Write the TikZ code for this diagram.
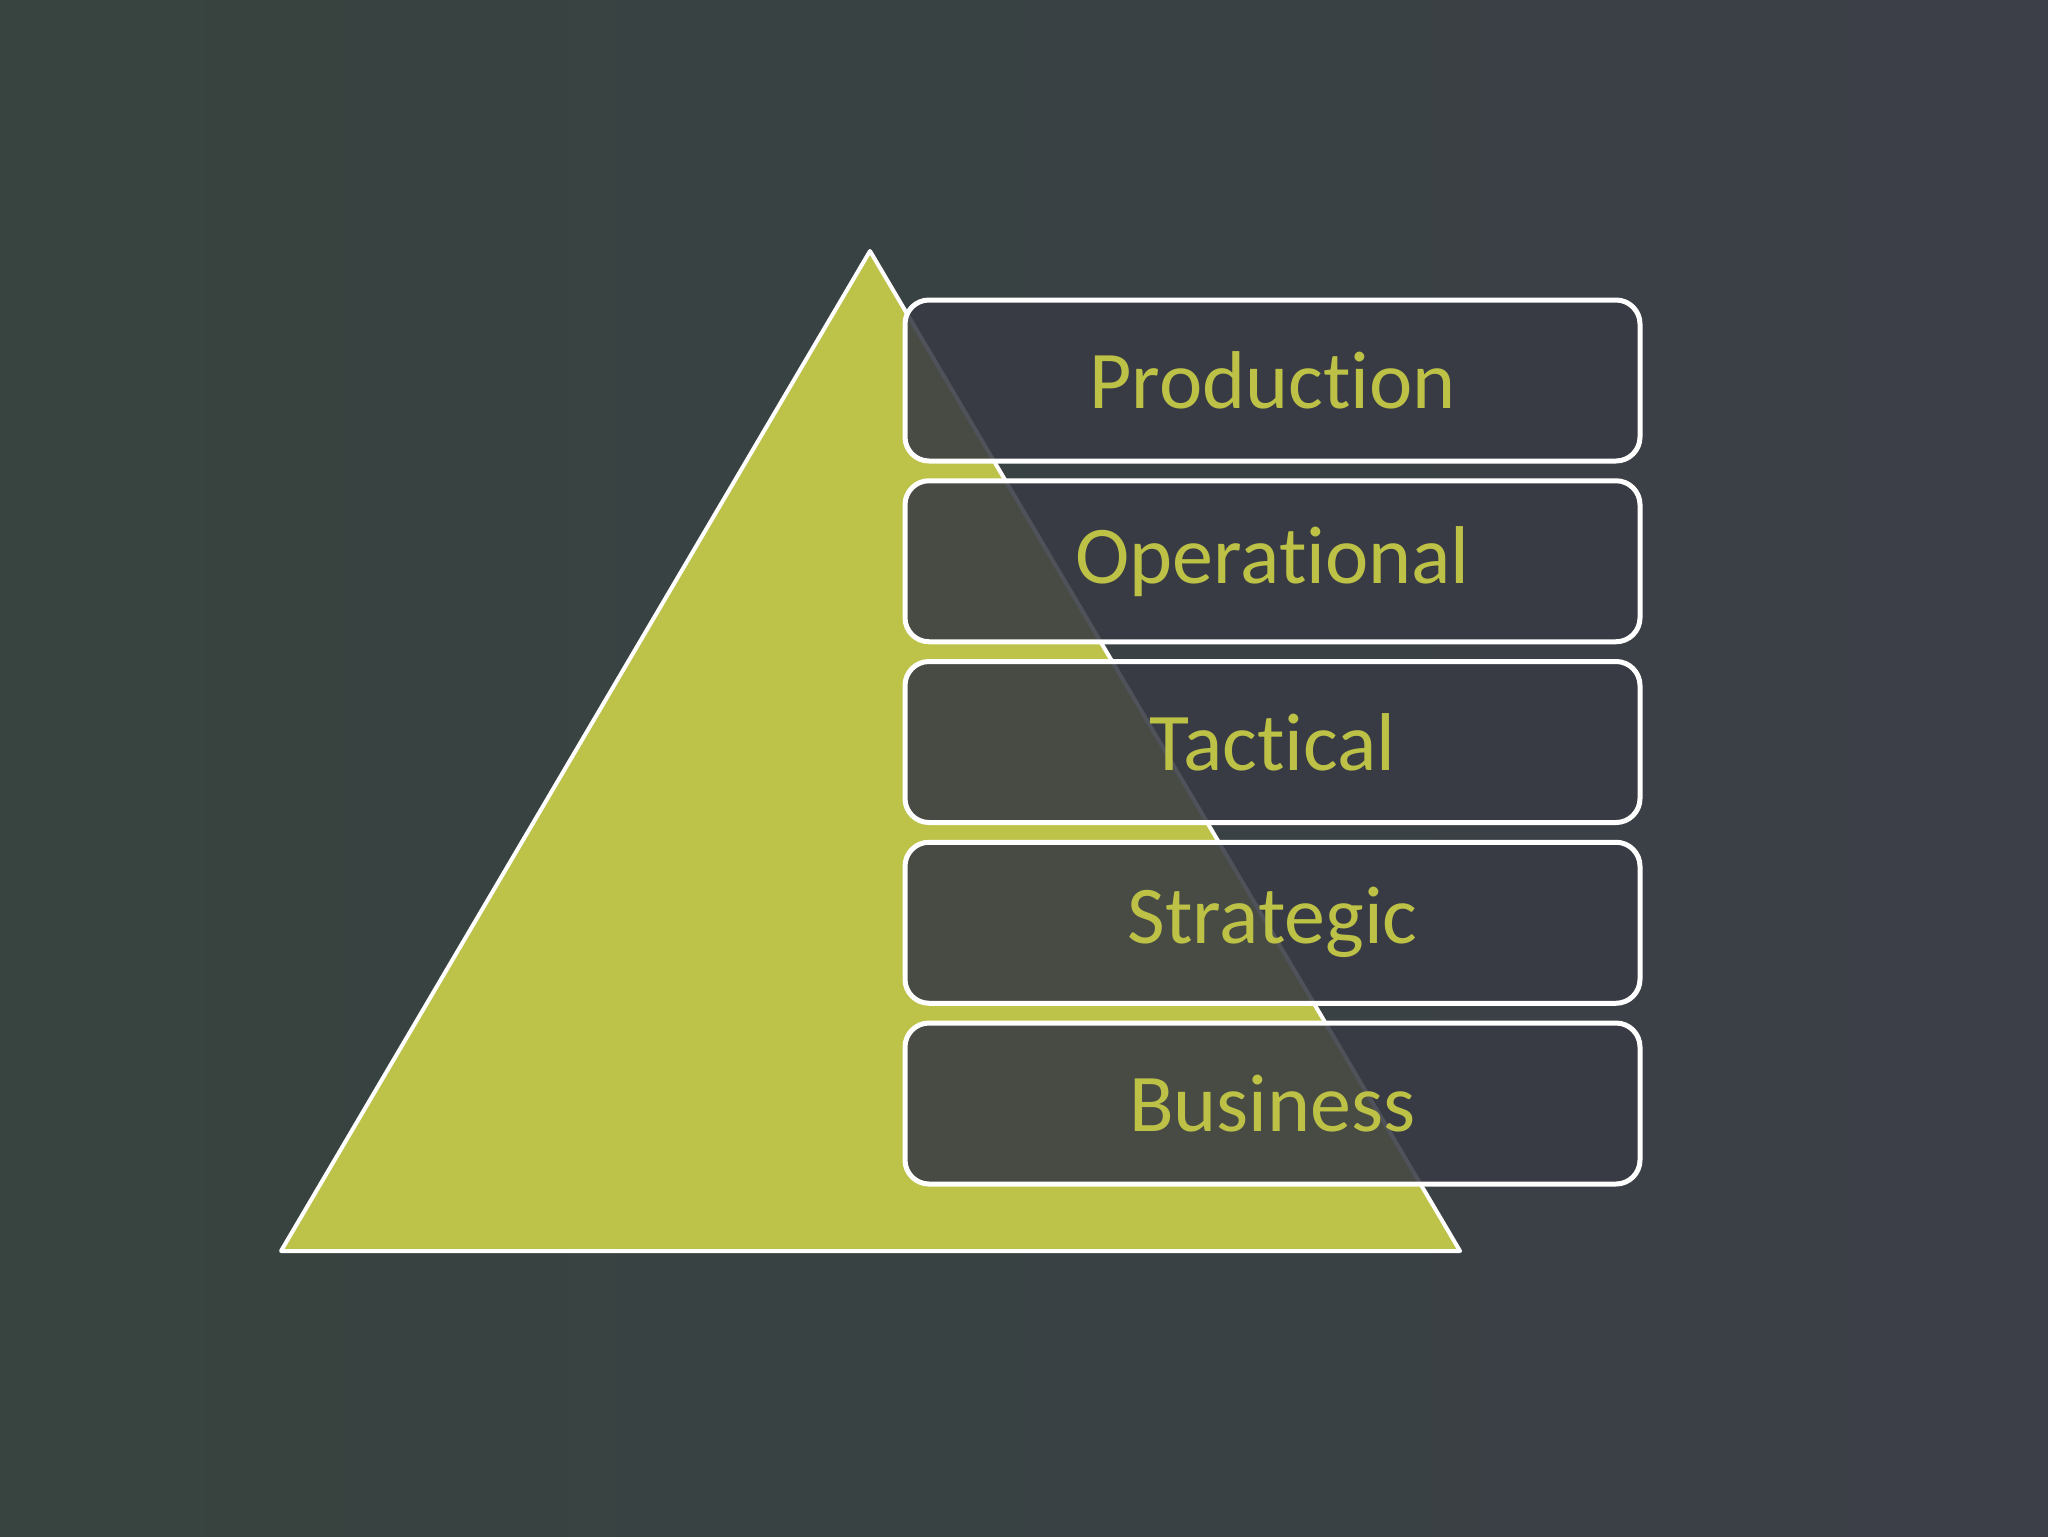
\documentclass[tikz,border=0pt]{standalone}
\usepackage{fontspec}
\setmainfont[Ligatures={NoCommon}]{Carlito}
\definecolor{bgleft}{HTML}{37443F}
\definecolor{bgright}{HTML}{3C3F48}
\definecolor{olive}{HTML}{BDC248}
\definecolor{txt}{HTML}{BDC247}
\definecolor{boxfill}{HTML}{383B44}
\begin{document}
\begin{tikzpicture}[x=0.5pt,y=-0.5pt,
  levelbox/.style={draw=white, line width=2.5pt, rounded corners=12pt, fill=boxfill, fill opacity=0.88, text opacity=1,
    minimum width=367.5pt, minimum height=80.5pt, inner sep=0pt, text=txt, font=\fontsize{41}{48}\selectfont},
  pyramid/.style={draw=white, line width=2pt, line join=round, fill=olive}]
\shade[left color=bgleft, right color=bgright] (0,0) rectangle (2048,1536);
\useasboundingbox (0,0) rectangle (2048,1536);
\coordinate (apex) at (870,251);
\coordinate (bl) at (281,1251);
\coordinate (br) at (1460,1251);
\draw[pyramid] (apex) -- (bl) -- (br) -- cycle;
\node[levelbox] (production) at (1272.5,380.5) {Production};
\node[levelbox] (operational) at (1272.5,561.25) {Operational};
\node[levelbox] (tactical) at (1272.5,742) {Tactical};
\node[levelbox] (strategic) at (1272.5,922.75) {Strategic};
\node[levelbox] (business) at (1272.5,1103.5) {Business};
\end{tikzpicture}
\end{document}
